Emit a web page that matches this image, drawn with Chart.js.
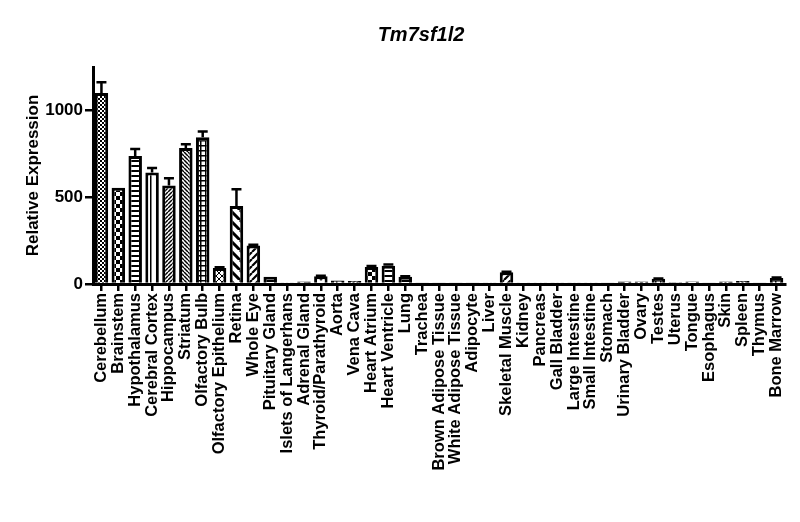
<!DOCTYPE html>
<html>
<head>
<meta charset="utf-8">
<script src="https://cdn.jsdelivr.net/npm/chart.js@4.4.0/dist/chart.umd.min.js"></script>
<style>
  html, body { margin: 0; padding: 0; background: #fff; }
  #wrap { width: 800px; height: 522px; }
</style>
</head>
<body>
<div id="wrap"><canvas id="chart"></canvas></div>
<script>
// Tissue panel, Tm7sf1l2 relative expression (mean and upper SEM)
const tissues = [
    'Cerebellum', 'Brainstem', 'Hypothalamus', 'Cerebral Cortex', 'Hippocampus',
    'Striatum', 'Olfactory Bulb', 'Olfactory Epithelium', 'Retina', 'Whole Eye',
    'Pituitary Gland', 'Islets of Langerhans', 'Adrenal Gland', 'Thyroid/Parathyroid', 'Aorta',
    'Vena Cava', 'Heart Atrium', 'Heart Ventricle', 'Lung', 'Trachea',
    'Brown Adipose Tissue', 'White Adipose Tissue', 'Adipocyte', 'Liver', 'Skeletal Muscle',
    'Kidney', 'Pancreas', 'Gall Bladder', 'Large Intestine', 'Small Intestine',
    'Stomach', 'Urinary Bladder', 'Ovary', 'Testes', 'Uterus',
    'Tongue', 'Esophagus', 'Skin', 'Spleen', 'Thymus', 'Bone Marrow'
];
const expression = [
    1100, 555, 738, 642, 567,
    783, 846, 92, 450, 222,
    42, 5, 14, 45, 20,
    18, 98, 105, 42, 8,
    8, 6, 6, 5, 68,
    5, 5, 5, 5, 5,
    6, 15, 15, 30, 10,
    15, 8, 15, 18, 8, 35
];
const errorUp = [
    62, 0, 40, 26, 42,
    22, 33, 4, 96, 4,
    0, 0, 0, 3, 0,
    0, 5, 8, 3, 0,
    0, 0, 0, 0, 2,
    0, 0, 0, 0, 0,
    0, 0, 0, 2, 0,
    0, 0, 0, 0, 0, 3
];
const yTicks = [0, 500, 1000];

// fill pattern per bar (GraphPad style hatching)
const barPatterns = [
    'checkFine', 'checker', 'hlines', 'vlines', 'diagUpFine',
    'diagDownFine', 'grid', 'cross', 'diagDownWide', 'diagUp',
    'hlines', 'checkFine', 'checker', 'dots', 'vlines',
    'diagUpFine', 'checker', 'hlines', 'hlines', 'grid',
    'cross', 'diagDownWide', 'diagUp', 'checkFine', 'diagUp',
    'hlines', 'vlines', 'diagUpFine', 'diagDownFine', 'grid',
    'cross', 'diagDownWide', 'diagUp', 'grid', 'checker',
    'hlines', 'vlines', 'diagUpFine', 'diagDownFine', 'grid', 'grid'
];

function makePattern(type) {
    const sizes = { checkFine: 4, checker: 8, hlines: 5, vlines: 6, diagUpFine: 4,
        diagDownFine: 4, grid: 5, cross: 6, diagDownWide: 10, diagUp: 7, dots: 6 };
    const s = sizes[type] || 6;
    const c = document.createElement('canvas');
    c.width = c.height = s;
    const g = c.getContext('2d');
    g.fillStyle = '#fff';
    g.fillRect(0, 0, s, s);
    g.fillStyle = '#000';
    g.strokeStyle = '#000';

    function diag(up, w) {
        g.lineWidth = w;
        g.beginPath();
        for (let k = -1; k <= 1; k++) {
            if (up) {
                g.moveTo(k * s, s);
                g.lineTo(k * s + s, 0);
            } else {
                g.moveTo(k * s, 0);
                g.lineTo(k * s + s, s);
            }
        }
        g.stroke();
    }

    switch (type) {
        case 'checkFine':
        case 'checker':
            g.fillRect(0, 0, s / 2, s / 2);
            g.fillRect(s / 2, s / 2, s / 2, s / 2);
            break;
        case 'hlines':
            g.fillRect(0, 0, s, 2);
            break;
        case 'vlines':
            g.fillRect(0, 0, 1.5, s);
            break;
        case 'grid':
            g.fillRect(0, 0, s, 1.5);
            g.fillRect(0, 0, 1.5, s);
            break;
        case 'diagUpFine':
            diag(true, 1.5);
            break;
        case 'diagDownFine':
            diag(false, 1.5);
            break;
        case 'diagDownWide':
            diag(false, 3);
            break;
        case 'diagUp':
            diag(true, 2.2);
            break;
        case 'cross':
            diag(true, 1);
            diag(false, 1);
            break;
        case 'dots':
            g.beginPath();
            g.arc(s / 2, s / 2, 1.5, 0, Math.PI * 2);
            g.fill();
            break;
    }
    return g.createPattern(c, 'repeat');
}

const fills = barPatterns.map(makePattern);

// upper error bars with caps
const errorBars = {
    id: 'errorBars',
    afterDatasetsDraw(chart) {
        const ctx = chart.ctx;
        const meta = chart.getDatasetMeta(0);
        const y = chart.scales.y;
        ctx.save();
        ctx.strokeStyle = '#000';
        ctx.lineWidth = 2.5;
        meta.data.forEach((bar, i) => {
            if (!errorUp[i]) return;
            const yBase = y.getPixelForValue(expression[i]);
            const yTop = y.getPixelForValue(expression[i] + errorUp[i]);
            ctx.beginPath();
            ctx.moveTo(bar.x, yBase);
            ctx.lineTo(bar.x, yTop);
            ctx.moveTo(bar.x - 5, yTop);
            ctx.lineTo(bar.x + 5, yTop);
            ctx.stroke();
        });
        ctx.restore();
    }
};

// italic gene name above the plot
const geneTitle = {
    id: 'geneTitle',
    afterDraw(chart) {
        const ctx = chart.ctx;
        const area = chart.chartArea;
        ctx.save();
        ctx.fillStyle = '#000';
        ctx.font = 'italic bold 20px "Liberation Sans", Arial, sans-serif';
        ctx.textAlign = 'center';
        ctx.textBaseline = 'middle';
        ctx.fillText('Tm7sf1l2', (area.left + area.right) / 2 - 18, 35);
        ctx.restore();
    }
};

const labelFont = { family: '"Liberation Sans", Arial, sans-serif', size: 16.5, weight: 'bold' };

new Chart(document.getElementById('chart'), {
    type: 'bar',
    data: {
        labels: tissues,
        datasets: [{
            data: expression,
            backgroundColor: fills,
            borderColor: '#000',
            borderWidth: 3,
            borderSkipped: 'start',
            barPercentage: 0.8,
            categoryPercentage: 1
        }]
    },
    options: {
        responsive: true,
        maintainAspectRatio: false,
        animation: false,
        layout: { padding: { top: 67, right: 15, left: 0, bottom: 0 } },
        plugins: {
            legend: { display: false },
            tooltip: { enabled: false }
        },
        scales: {
            x: {
                offset: true,
                afterFit: function (scale) { scale.height = 238; },
                grid: {
                    offset: false,
                    drawOnChartArea: false,
                    drawTicks: true,
                    tickLength: 7,
                    lineWidth: 2.5,
                    color: '#000'
                },
                border: { display: true, color: '#000', width: 3 },
                ticks: {
                    autoSkip: false,
                    minRotation: 90,
                    maxRotation: 90,
                    padding: 2,
                    color: '#000',
                    font: labelFont
                }
            },
            y: {
                min: 0,
                max: 1250,
                afterFit: function (scale) { scale.width = 93; },
                afterBuildTicks: function (scale) {
                    scale.ticks = yTicks.map(v => ({ value: v }));
                },
                grid: {
                    drawOnChartArea: false,
                    drawTicks: true,
                    tickLength: 8,
                    lineWidth: 2.5,
                    color: '#000'
                },
                border: { display: true, color: '#000', width: 3 },
                ticks: {
                    padding: 2,
                    color: '#000',
                    font: { family: '"Liberation Sans", Arial, sans-serif', size: 17, weight: 'bold' },
                    callback: function (value) { return String(value); }
                },
                title: {
                    display: true,
                    text: 'Relative Expression',
                    color: '#000',
                    font: { family: '"Liberation Sans", Arial, sans-serif', size: 17, weight: 'bold' },
                    padding: { top: 23, bottom: 0 }
                }
            }
        }
    },
    plugins: [errorBars, geneTitle]
});
</script>
</body>
</html>
